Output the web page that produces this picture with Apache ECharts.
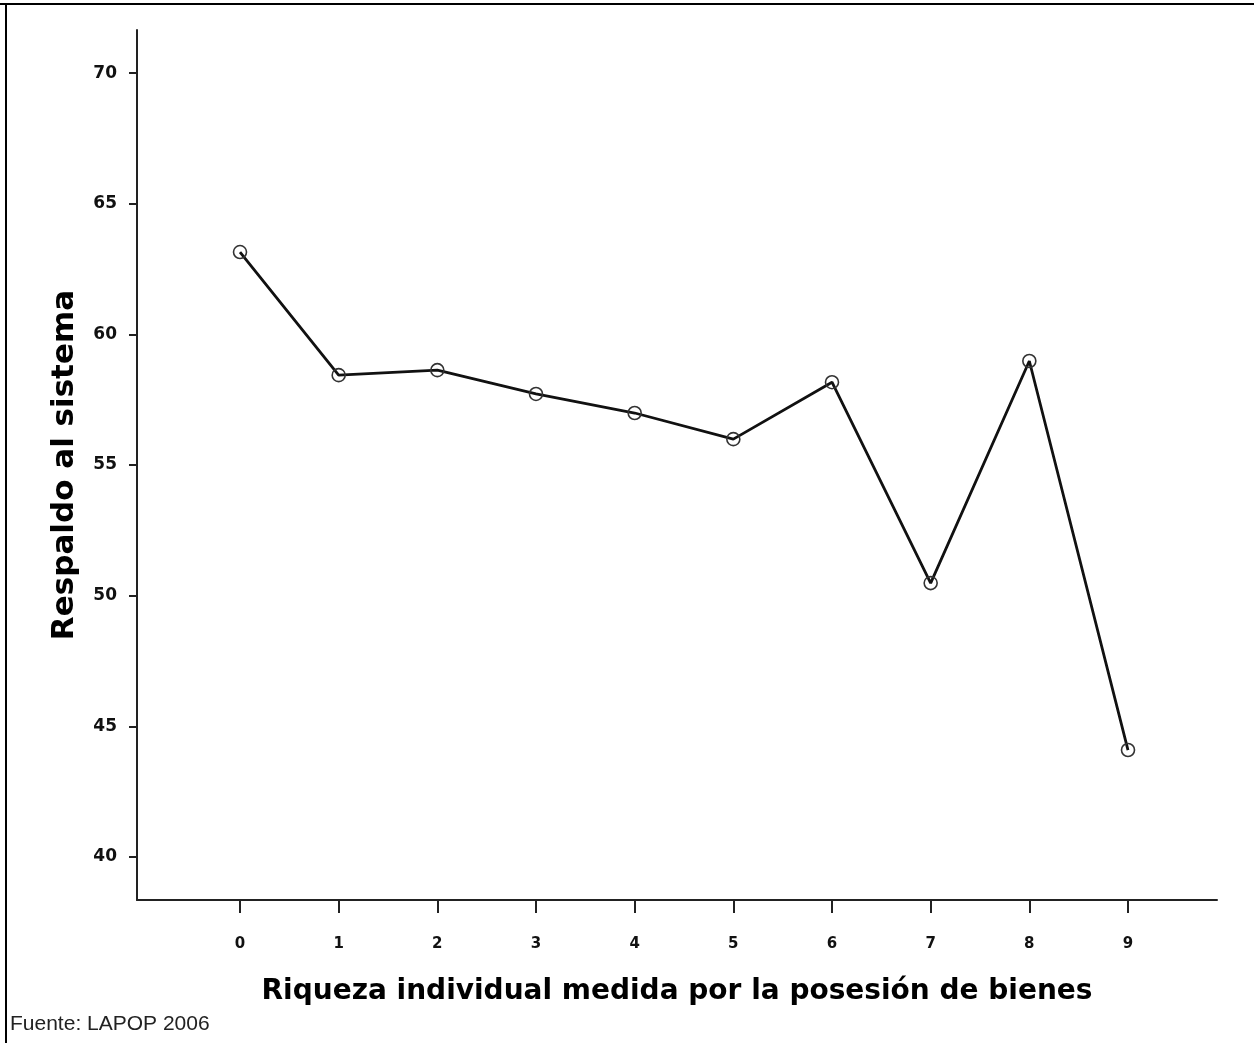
<!DOCTYPE html>
<html>
<head>
<meta charset="utf-8">
<script src="https://cdn.jsdelivr.net/npm/echarts@6/dist/echarts.min.js"></script>
<style>
html,body{margin:0;padding:0;background:#fff;}
#chart{width:1254px;height:1043px;}
</style>
</head>
<body>
<div id="chart"></div>
<script>
const categories = [0, 1, 2, 3, 4, 5, 6, 7, 8, 9];
const respaldo = [63.15, 58.44, 58.63, 57.72, 56.99, 55.99, 58.17, 50.48, 58.98, 44.09];
const yTicks = [40, 45, 50, 55, 60, 65, 70];
const xTitle = 'Riqueza individual medida por la posesión de bienes';
const yTitle = 'Respaldo al sistema';
const sourceNote = 'Fuente: LAPOP 2006';

const chart = echarts.init(document.getElementById('chart'), null, {renderer: 'canvas'});
const axisColor = '#222';
chart.setOption({
  backgroundColor: '#fff',
  animation: false,
  grid: {left: 137, top: 30, width: 1080, height: 870, containLabel: false},
  xAxis: {
    type: 'value',
    min: -1.044, max: 9.902,
    axisLine: {show: true, onZero: false, lineStyle: {color: axisColor, width: 2}},
    axisTick: {show: true, customValues: categories, length: 13, lineStyle: {color: axisColor, width: 2}},
    axisLabel: {show: true, customValues: categories, margin: 37, color: '#111',
      fontFamily: 'DejaVu Sans', fontWeight: 'bold', fontSize: 15},
    splitLine: {show: false},
    name: xTitle, nameLocation: 'middle', nameGap: 78,
    nameTextStyle: {color: '#000', fontFamily: 'DejaVu Sans', fontWeight: 900, fontSize: 28}
  },
  yAxis: {
    type: 'value',
    min: 38.35, max: 71.65,
    axisLine: {show: true, onZero: false, lineStyle: {color: axisColor, width: 2}},
    axisTick: {show: true, customValues: yTicks, length: 8, lineStyle: {color: axisColor, width: 2}},
    axisLabel: {show: true, customValues: yTicks, margin: 20, color: '#111',
      fontFamily: 'DejaVu Sans', fontWeight: 'bold', fontSize: 17},
    splitLine: {show: false},
    name: yTitle, nameLocation: 'middle', nameGap: 57, nameRotate: 90,
    nameTextStyle: {color: '#000', fontFamily: 'DejaVu Sans', fontWeight: 900, fontSize: 31}
  },
  series: [{
    type: 'line',
    data: categories.map((c, i) => [c, respaldo[i]]),
    lineStyle: {color: '#111', width: 2.8},
    symbol: 'circle',
    symbolSize: 13,
    itemStyle: {color: 'rgba(255,255,255,0)', borderColor: '#333', borderWidth: 1.6},
    z: 3
  }],
  graphic: [
    {type: 'rect', shape: {x: 0, y: 3, width: 1254, height: 2}, style: {fill: '#000'}},
    {type: 'rect', shape: {x: 5, y: 3, width: 2, height: 1040}, style: {fill: '#000'}},
    {type: 'text', left: 10, top: 1014, style: {text: sourceNote, fill: '#222',
      font: '21px "Liberation Sans", Arial, sans-serif'}}
  ]
});
</script>
</body>
</html>
